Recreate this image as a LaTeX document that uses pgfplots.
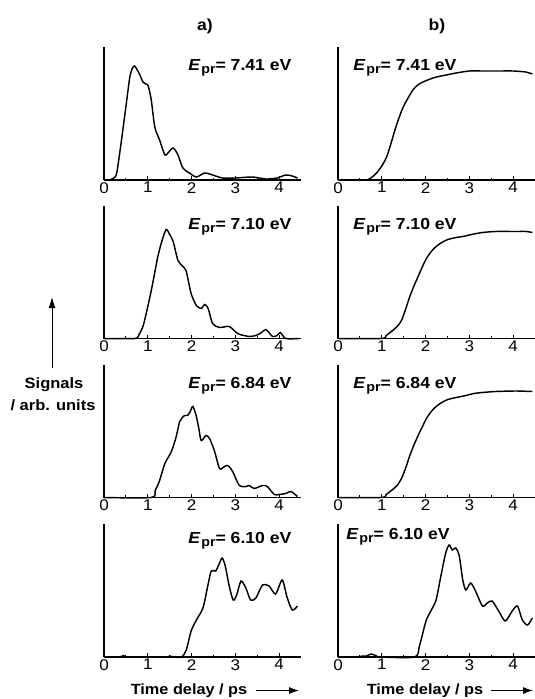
\documentclass[border=0pt]{standalone}
\usepackage{fontspec}
\setmainfont{Liberation Sans}[FakeStretch=1.1]
\usepackage{pgfplots}
\pgfplotsset{compat=1.18}
\usetikzlibrary{arrows.meta}
\newcommand{\tk}[1]{{\fontsize{15.5}{15.5}\selectfont #1}}
\pgfplotsset{
  panel/.style={
    scale only axis, width=197pt, height=133pt,
    xmin=0, xmax=4.5, ymin=0, ymax=133,
    axis x line=bottom, axis y line=left,
    axis line style={line width=1.8pt, -},
    ytick=\empty, xtick={0,1,2,3,4}, xticklabels={\tk{0},\tk{1},\tk{2},\tk{3},\tk{4}},
    minor xtick={0.5,1.5,2.5,3.5},
    tick align=inside, major tick length=4pt, minor tick length=2.5pt,
    every tick/.style={line width=1.2pt, black},
    xticklabel style={font=\fontsize{15.5}{15.5}\selectfont, inner sep=1pt, yshift=-1pt},
    clip=false,
  },
  curve/.style={black, line width=1.45pt, smooth, tension=0.45, mark=none},
}
\newcommand{\lab}[1]{\fontsize{16}{16}\selectfont\bfseries\textit{E}\kern0.8pt\raisebox{-3pt}{\fontsize{13}{13}\selectfont pr}= #1 eV}
\begin{document}
\begin{tikzpicture}
\useasboundingbox (0,0) rectangle (535pt,-699pt);
% titles
\node[font=\fontsize{16}{16}\selectfont\bfseries] at (205pt,-26pt) {a)};
\node[font=\fontsize{16}{16}\selectfont\bfseries] at (437pt,-26pt) {b)};
% row 1
\begin{axis}[panel, at={(104pt,-180pt)}, anchor=south west]
\addplot[curve] coordinates {(0,0) (0.14,0) (0.22,2) (0.29,7) (0.40,40) (0.52,80) (0.59,103) (0.65,112) (0.70,114) (0.76,110) (0.82,105) (0.89,98) (0.96,96) (1.01,94) (1.08,80) (1.16,53) (1.27,40) (1.39,25) (1.46,27) (1.58,32) (1.69,25) (1.80,12) (1.95,7) (2.11,3) (2.30,7) (2.48,5) (2.71,2) (3.0,2) (3.39,3) (3.70,1) (3.95,2) (4.15,5) (4.30,4) (4.42,2)};
\node[anchor=base west] at (rel axis cs:0.41,0.82) {\lab{7.41}};
\end{axis}
\begin{axis}[panel, at={(338pt,-180pt)}, anchor=south west]
\addplot[curve] coordinates {(0,0) (0.61,0) (0.75,2) (0.88,7) (1.0,14) (1.11,23) (1.20,35) (1.30,50) (1.40,63) (1.49,73) (1.60,82) (1.71,90) (1.82,95) (1.94,98) (2.05,100) (2.17,102) (2.30,103.5) (2.47,105) (2.7,107) (3.0,109) (3.3,109) (3.68,109) (4.0,109) (4.29,108) (4.44,106)};
\node[anchor=base west] at (rel axis cs:0.06,0.82) {\lab{7.41}};
\end{axis}
% row 2
\begin{axis}[panel, at={(104pt,-338.5pt)}, anchor=south west]
\addplot[curve] coordinates {(0,0) (0.70,0) (0.80,4) (0.89,12) (0.98,28) (1.08,48) (1.16,66) (1.23,82) (1.32,97) (1.42,109) (1.50,104) (1.58,97) (1.69,78) (1.80,72) (1.88,67) (1.99,45) (2.11,33) (2.22,30) (2.30,34) (2.38,30) (2.48,15) (2.64,11) (2.86,12) (3.05,5) (3.20,3) (3.32,2) (3.47,3) (3.60,6) (3.70,9) (3.85,2) (3.95,3) (4.03,6) (4.15,0) (4.45,0)};
\node[anchor=base west] at (rel axis cs:0.41,0.82) {\lab{7.10}};
\end{axis}
\begin{axis}[panel, at={(338pt,-338.5pt)}, anchor=south west]
\addplot[curve] coordinates {(0,0) (0.99,0) (1.10,3) (1.22,7) (1.35,12) (1.45,18) (1.55,30) (1.64,42) (1.74,53) (1.83,62) (1.93,72) (2.02,80) (2.13,87) (2.24,92) (2.37,96) (2.51,99) (2.7,101) (2.85,102) (3.05,104) (3.30,106) (3.6,107) (4.06,107) (4.30,107) (4.44,106)};
\node[anchor=base west] at (rel axis cs:0.06,0.82) {\lab{7.10}};
\end{axis}
% row 3
\begin{axis}[panel, at={(104pt,-497.5pt)}, anchor=south west]
\addplot[curve] coordinates {(0,0) (1.08,0) (1.17,7) (1.27,17) (1.39,34) (1.54,46) (1.65,61) (1.73,76) (1.84,82) (1.91,82) (1.97,86) (2.03,91) (2.11,81) (2.17,68) (2.22,57) (2.33,62) (2.41,59) (2.52,47) (2.64,29) (2.75,31) (2.83,32) (2.94,26) (3.09,12) (3.24,11) (3.32,12) (3.43,9) (3.62,12) (3.73,11) (3.89,3) (4.0,3) (4.15,4) (4.27,6) (4.42,1)};
\node[anchor=base west] at (rel axis cs:0.41,0.82) {\lab{6.84}};
\end{axis}
\begin{axis}[panel, at={(338pt,-497.5pt)}, anchor=south west]
\addplot[curve] coordinates {(0,0) (0.99,0) (1.10,3) (1.22,7) (1.35,12) (1.45,19) (1.55,30) (1.64,42) (1.74,53) (1.83,62) (1.93,71) (2.02,79) (2.13,86) (2.24,91) (2.37,95) (2.51,98) (2.7,100) (2.92,102) (3.10,104) (3.30,105) (3.6,106) (4.06,106.5) (4.44,106)};
\node[anchor=base west] at (rel axis cs:0.06,0.82) {\lab{6.84}};
\end{axis}
% row 4
\begin{axis}[panel, at={(104pt,-657pt)}, anchor=south west]
\addplot[curve] coordinates {(0,0) (0.35,0) (0.45,1.5) (0.55,0) (1.4,0) (1.5,1) (1.6,0) (1.77,0) (1.88,7) (1.99,26) (2.11,37) (2.26,49) (2.37,71) (2.45,86) (2.55,86) (2.64,94) (2.70,99) (2.77,91) (2.86,71) (2.95,57) (3.03,62) (3.13,76) (3.24,69) (3.35,57) (3.47,59) (3.62,72) (3.77,71) (3.92,63) (4.07,77) (4.18,60) (4.30,47) (4.42,51)};
\node[anchor=base west] at (rel axis cs:0.41,0.85) {\lab{6.10}};
\end{axis}
\begin{axis}[panel, at={(338pt,-657pt)}, anchor=south west]
\addplot[curve] coordinates {(0,0) (0.45,0) (0.55,1) (0.65,1) (0.76,3) (0.88,1) (0.98,0) (1.75,0) (1.86,11) (2.01,36) (2.12,46) (2.24,57) (2.35,81) (2.46,104) (2.54,112) (2.61,107) (2.69,109) (2.77,101) (2.85,77) (2.92,67) (3.03,74) (3.14,66) (3.30,51) (3.41,54) (3.52,56) (3.67,46) (3.82,36) (3.98,46) (4.10,51) (4.21,37) (4.33,32) (4.44,39)};
\node[anchor=base west] at (rel axis cs:0.025,0.88) {\lab{6.10}};
\end{axis}
% y label and arrow
\draw[-{Latex[length=11pt,width=7pt]}, line width=1pt] (52pt,-368pt) -- (52pt,-297pt);
\node[anchor=base, font=\fontsize{15}{15}\selectfont\bfseries] at (54pt,-388pt) {Signals};
\node[anchor=base, font=\fontsize{15}{15}\selectfont\bfseries] at (53pt,-410pt) {/ arb. units};
% x labels
\node[anchor=base, font=\fontsize{14.8}{14.8}\selectfont\bfseries] at (189pt,-694pt) {Time delay / ps};
\draw[-{Latex[length=10pt,width=7pt]}, line width=1pt] (256pt,-690.5pt) -- (299pt,-690.5pt);
\node[anchor=base, font=\fontsize{14.8}{14.8}\selectfont\bfseries] at (425pt,-694pt) {Time delay / ps};
\draw[-{Latex[length=10pt,width=7pt]}, line width=1pt] (491pt,-690.5pt) -- (533pt,-690.5pt);
\end{tikzpicture}
\end{document}
